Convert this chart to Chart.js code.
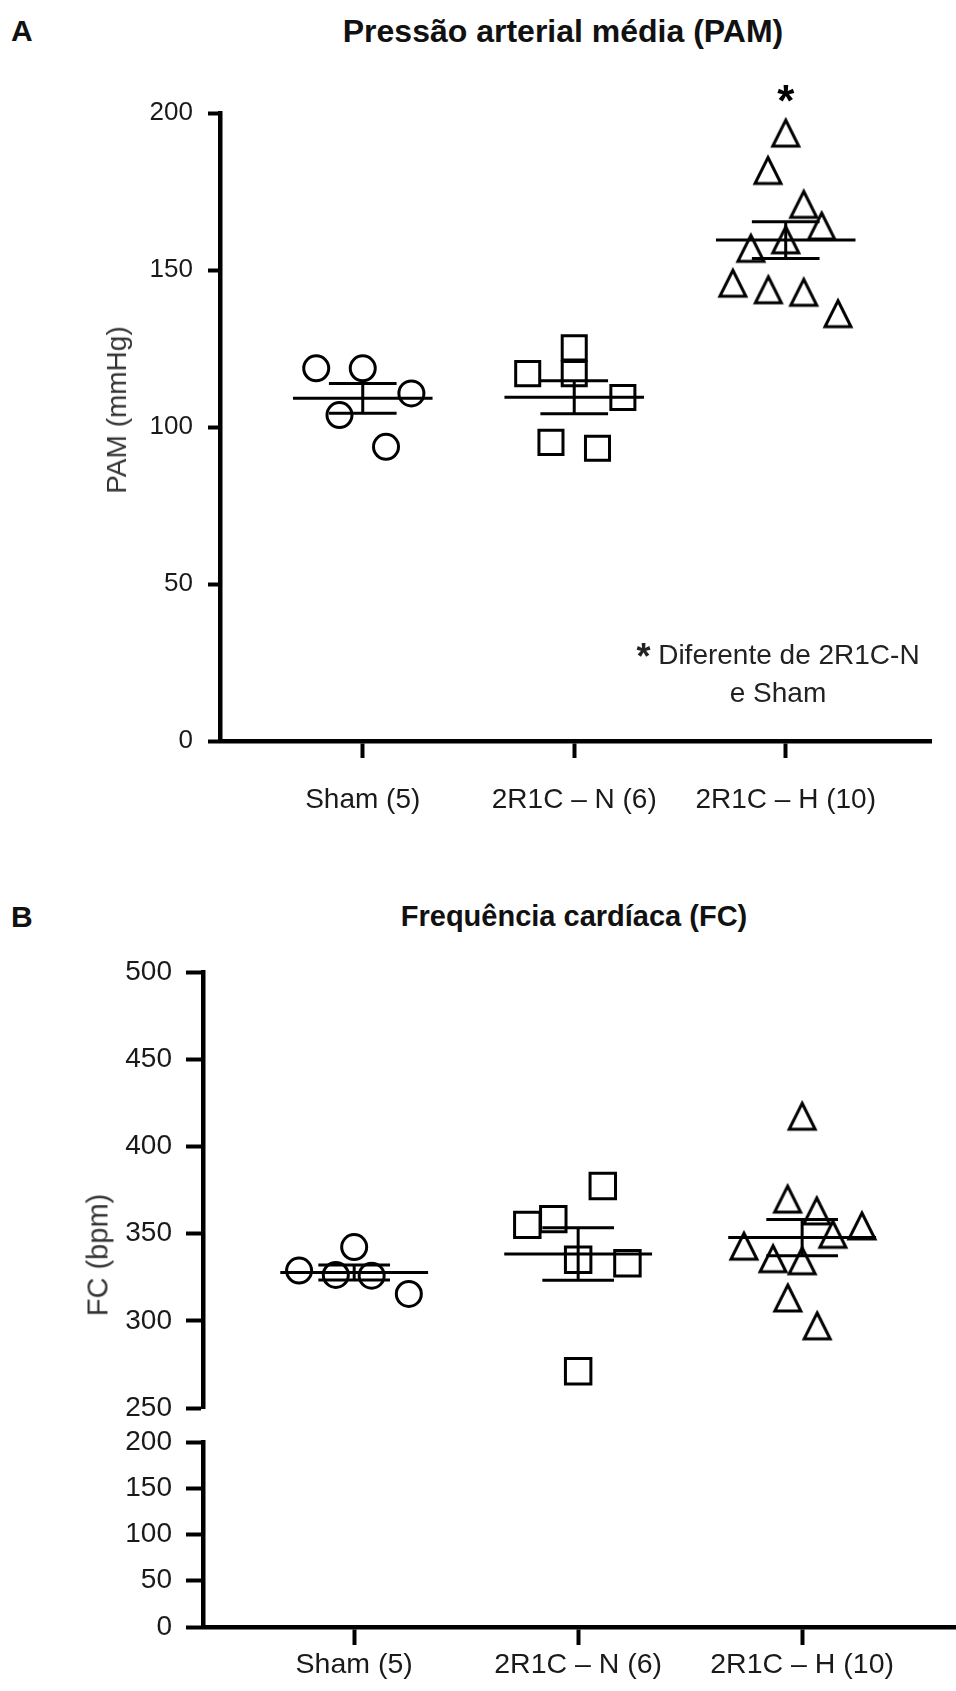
<!DOCTYPE html>
<html lang="pt">
<head>
<meta charset="utf-8">
<title>PAM e FC</title>
<script src="https://cdn.jsdelivr.net/npm/chart.js@4.4.1/dist/chart.umd.min.js"></script>
<style>
  html, body { margin: 0; padding: 0; background: #fff; }
  body { position: relative; width: 956px; height: 1691px; overflow: hidden;
         font-family: "Liberation Sans", Arial, sans-serif; color: #111; }
  .lbl { position: absolute; line-height: 1; white-space: nowrap; }
  .bold { font-weight: bold; }
  .center { transform: translateX(-50%); }
  .rot { transform: translate(-50%, -50%) rotate(-90deg); color: #333; }
  #wrapA { position: absolute; left: 0; top: 0; width: 956px; height: 850px; }
  #wrapB { position: absolute; left: 0; top: 850px; width: 956px; height: 841px; }
  canvas { display: block; }
  .note { position: absolute; left: 778px; top: 633px; transform: translateX(-50%);
          text-align: center; font-size: 28px; line-height: 38px; color: #222; white-space: nowrap; }
  .note b { font-size: 36px; position: relative; top: 5px; }
</style>
</head>
<body>
<div class="lbl bold" style="left:11px; top:16px; font-size:30px;">A</div>
<div class="lbl bold center" style="left:563px; top:15px; font-size:32px;">Pressão arterial média (PAM)</div>
<div id="wrapA"><canvas id="chartA" width="956" height="850"></canvas></div>
<div class="lbl rot" style="left:117px; top:410px; font-size:28px;">PAM (mmHg)</div>
<div class="note"><b>*</b> Diferente de 2R1C-N<br>e Sham</div>

<div class="lbl bold" style="left:11px; top:902px; font-size:30px;">B</div>
<div class="lbl bold center" style="left:574px; top:902px; font-size:29px;">Frequência cardíaca (FC)</div>
<div id="wrapB"><canvas id="chartB" width="956" height="841"></canvas></div>
<div class="lbl rot" style="left:98px; top:1255px; font-size:29px;">FC (bpm)</div>

<script>
const categories = ['Sham (5)', '2R1C \u2013 N (6)', '2R1C \u2013 H (10)'];

// PAM (mmHg) per animal; the *Jit arrays hold each point's spread around its group
const pamSham = [118.7, 118.7, 110.7, 103.8, 93.7];
const pamShamJit = [-0.22, 0, 0.23, -0.11, 0.11];
const pamN = [117.0, 125.2, 117.0, 109.4, 95.1, 93.2];
const pamNJit = [-0.22, 0, 0, 0.23, -0.11, 0.11];
const pamH = [193.6, 181.7, 170.9, 164.0, 156.9, 159.6, 145.8, 143.7, 142.9, 136.1];
const pamHJit = [0, -0.084, 0.085, 0.17, -0.165, 0, -0.25, -0.082, 0.085, 0.247];
const pamTicks = [0, 50, 100, 150, 200];

// FC (bpm) per animal
const fcSham = [328.8, 326.3, 342.3, 325.9, 315.4];
const fcShamJit = [-0.246, -0.082, 0, 0.078, 0.244];
const fcN = [355.0, 358.3, 377.3, 335.0, 333.0, 271.1];
const fcNJit = [-0.227, -0.111, 0.11, 0, 0.22, 0];
const fcH = [417.3, 369.8, 363.0, 354.4, 349.6, 342.8, 335.6, 334.4, 313.1, 297.1];
const fcHJit = [0, -0.065, 0.065, 0.267, 0.137, -0.26, -0.13, 0, -0.064, 0.067];
const fcTicksTop = [250, 300, 350, 400, 450, 500];
const fcTicksLow = [0, 50, 100, 150, 200];

const FONT = '"Liberation Sans", Arial, sans-serif';

function points(values, jit, group) {
  return values.map((v, i) => ({ x: group + jit[i], y: v }));
}

function meanSem(v) {
  const m = v.reduce((a, b) => a + b, 0) / v.length;
  const sd = Math.sqrt(v.reduce((a, b) => a + (b - m) ** 2, 0) / (v.length - 1));
  return { m, s: sd / Math.sqrt(v.length) };
}

// mean line, SEM caps and the vertical bar, as one broken line
function summary(groups) {
  const pts = [];
  groups.forEach((v, i) => {
    const { m, s } = meanSem(v);
    pts.push(
      { x: i - 0.33, y: m }, { x: i + 0.33, y: m }, { x: i, y: null },
      { x: i - 0.16, y: m + s }, { x: i + 0.16, y: m + s }, { x: i, y: null },
      { x: i - 0.16, y: m - s }, { x: i + 0.16, y: m - s }, { x: i, y: null },
      { x: i, y: m - s }, { x: i, y: m + s }, { x: i, y: null }
    );
  });
  return pts;
}

// open triangle centred on its bounding box
function triangleMark(size, lw) {
  const c = document.createElement('canvas');
  c.width = c.height = size;
  const g = c.getContext('2d');
  const pad = lw + 1;
  g.strokeStyle = '#000';
  g.lineWidth = lw;
  g.lineJoin = 'miter';
  g.beginPath();
  g.moveTo(size / 2, pad);
  g.lineTo(size - pad, size - pad);
  g.lineTo(pad, size - pad);
  g.closePath();
  g.stroke();
  return c;
}

function markSet(data, style, radius, yAxisID) {
  return {
    data, yAxisID,
    pointStyle: style,
    pointRadius: radius,
    pointHoverRadius: radius,
    pointBorderWidth: 3,
    pointBorderColor: '#000',
    pointBackgroundColor: 'rgba(0,0,0,0)',
    showLine: false
  };
}

function lineSet(data, yAxisID) {
  return {
    data, yAxisID,
    showLine: true,
    spanGaps: false,
    pointRadius: 0,
    borderColor: '#000',
    borderWidth: 3,
    borderCapStyle: 'butt'
  };
}

function xAxis(fontSize, tickLen, height, pad) {
  return {
    type: 'linear',
    min: -0.675,
    max: 2.687,
    afterBuildTicks: (s) => { s.ticks = categories.map((_, i) => ({ value: i })); },
    afterFit: (s) => { s.height = height; s.paddingLeft = 0; s.paddingRight = 0; },
    ticks: {
      callback: (v) => categories[v],
      autoSkip: false,
      maxRotation: 0,
      padding: pad,
      color: '#1a1a1a',
      font: { family: FONT, size: fontSize }
    },
    grid: { drawOnChartArea: false, tickLength: tickLen, tickWidth: 4, tickColor: '#000' },
    border: { color: '#000', width: 4.5 }
  };
}

function yAxis(ticks, fontSize, tickLen, pad, width, extra) {
  return Object.assign({
    type: 'linear',
    position: 'left',
    min: ticks[0],
    max: ticks[ticks.length - 1],
    afterFit: (s) => { s.width = width; },
    ticks: {
      stepSize: ticks[1] - ticks[0],
      autoSkip: false,
      padding: pad,
      color: '#1a1a1a',
      font: { family: FONT, size: fontSize }
    },
    grid: { drawOnChartArea: false, tickLength: tickLen, tickWidth: 4, tickColor: '#000' },
    border: { color: '#000', width: 4.5 }
  }, extra || {});
}

// asterisk over the 2R1C-H group
const starPlugin = {
  id: 'groupStar',
  afterDatasetsDraw(chart) {
    const { ctx, scales } = chart;
    const px = scales.x.getPixelForValue(2);
    const py = scales.y.getPixelForValue(Math.max(...pamH)) - 42;
    ctx.save();
    ctx.fillStyle = '#000';
    ctx.font = 'bold 44px ' + FONT;
    ctx.textAlign = 'center';
    ctx.textBaseline = 'alphabetic';
    ctx.fillText('*', px, py + 25);
    ctx.restore();
  }
};

const tri = triangleMark(34, 3);

const common = {
  responsive: false,
  maintainAspectRatio: false,
  animation: false,
  devicePixelRatio: 1,
  plugins: { legend: { display: false }, tooltip: { enabled: false } }
};

new Chart(document.getElementById('chartA'), {
  type: 'scatter',
  data: {
    datasets: [
      markSet(points(pamSham, pamShamJit, 0), 'circle', 12.5, 'y'),
      markSet(points(pamN, pamNJit, 1), 'rect', 17, 'y'),
      markSet(points(pamH, pamHJit, 2), tri, 15, 'y'),
      lineSet(summary([pamSham, pamN, pamH]), 'y')
    ]
  },
  options: Object.assign({}, common, {
    layout: { autoPadding: false, padding: { top: 113, right: 25, left: 0, bottom: 0 } },
    scales: {
      x: xAxis(28, 17, 109, 25),
      y: yAxis(pamTicks, 26, 12, 15, 220)
    }
  }),
  plugins: [starPlugin]
});

// heart rate: the y axis is broken between 200 and 250
new Chart(document.getElementById('chartB'), {
  type: 'scatter',
  data: {
    datasets: [
      markSet(points(fcSham, fcShamJit, 0), 'circle', 12.5, 'yTop'),
      markSet(points(fcN, fcNJit, 1), 'rect', 18, 'yTop'),
      markSet(points(fcH, fcHJit, 2), tri, 15, 'yTop'),
      lineSet(summary([fcSham, fcN, fcH]), 'yTop')
    ]
  },
  options: Object.assign({}, common, {
    layout: { autoPadding: false, padding: { top: 122, right: 0, left: 0, bottom: 0 } },
    scales: {
      x: xAxis(28.5, 18, 64, 3),
      yLow: yAxis(fcTicksLow, 28, 17, 14, 203, { stack: 'fc', stackWeight: 185, weight: 1 }),
      yGap: { type: 'linear', position: 'left', display: false, min: 200, max: 250,
              stack: 'fc', stackWeight: 34, weight: 2 },
      yTop: yAxis(fcTicksTop, 28, 17, 14, 203, { stack: 'fc', stackWeight: 436, weight: 3 })
    }
  })
});
</script>
</body>
</html>
